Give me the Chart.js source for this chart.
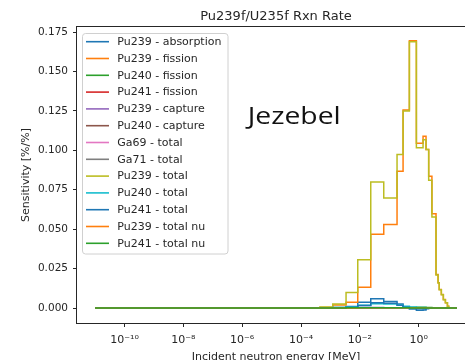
<!DOCTYPE html>
<html>
<head>
<meta charset="utf-8">
<script src="https://cdn.jsdelivr.net/npm/chart.js@4.4.1/dist/chart.umd.min.js"></script>
<style>
  html, body { margin: 0; padding: 0; overflow: hidden; background: #fff; }
  canvas { display: block; }
</style>
</head>
<body>
<canvas id="rxnChart" width="480" height="360"></canvas>
<script>
// Energy group boundaries [MeV]
const energyEdges = [1e-11, 4.4e-4, 1.2e-3, 3.4e-3, 8.5e-3, 2.35e-2, 6.5e-2, 0.184, 0.295, 0.483,
  0.836, 1.41, 1.78, 2.19, 2.82, 3.89, 4.57, 5.0, 5.9, 6.9, 8.1, 9.5, 10.5, 20];

const xTicks = [1e-10, 1e-8, 1e-6, 1e-4, 1e-2, 1];
const yTicks = [0, 0.025, 0.05, 0.075, 0.1, 0.125, 0.15, 0.175];

// Sensitivity per group, one value per bin
const pu239Absorption = [0, 0, 0.0004, 0.0010, 0.0036, 0.0059, 0.0042, 0.0025, 0.0006, -0.0006, -0.0014, -0.0012,
  -0.0004, -0.0001, 0, 0, 0, 0, 0, 0, 0, 0, 0];
const pu239Fission = [0, 0.0003, 0.0019, 0.0036, 0.0131, 0.0467, 0.0529, 0.0867, 0.1256, 0.1695, 0.1045, 0.1090,
  0.1005, 0.0835, 0.0598, 0.0212, 0.0160, 0.0117, 0.0085, 0.0054, 0.0034, 0.0011, 0];
const pu240Fission = [0, 0, 0, 0, 0, 0.0001, 0.0001, 0.0001, 0.0002, 0.0003, 0.0005, 0.0005,
  0.0004, 0.0003, 0.0002, 0.0001, 0, 0, 0, 0, 0, 0, 0];
const pu241Fission = [0, 0, 0, 0.0001, 0.0001, 0.0002, 0.0002, 0.0001, 0.0001, 0.0001, 0, 0,
  0, 0, 0, 0, 0, 0, 0, 0, 0, 0, 0];
const pu239Capture = [0, 0, 0.0001, 0.0002, 0.0003, 0.0003, 0.0002, 0.0001, 0, 0, 0, 0,
  0, 0, 0, 0, 0, 0, 0, 0, 0, 0, 0];
const pu240Capture = [0, 0, 0, 0.0001, 0.0001, 0.0001, 0.0001, 0, 0, 0, 0, 0,
  0, 0, 0, 0, 0, 0, 0, 0, 0, 0, 0];
const ga69Total = [0, 0, 0, 0, 0.0001, 0.0001, 0.0001, 0.0001, 0, 0, 0, 0,
  0, 0, 0, 0, 0, 0, 0, 0, 0, 0, 0];
const ga71Total = [0, 0, 0, 0, 0.0001, 0.0001, 0.0001, 0, 0, 0, 0, 0,
  0, 0, 0, 0, 0, 0, 0, 0, 0, 0, 0];
const pu239Total = [0, 0.0006, 0.0025, 0.0099, 0.0306, 0.0799, 0.0698, 0.0973, 0.1250, 0.1688, 0.1017, 0.1067,
  0.1005, 0.0810, 0.0577, 0.0210, 0.0159, 0.0116, 0.0084, 0.0053, 0.0034, 0.0011, 0];
const pu240Total = [0, 0, 0.0003, 0.0008, 0.0017, 0.0027, 0.0026, 0.0019, 0.0011, 0.0007, 0.0004, 0.0003,
  0.0002, 0.0001, 0, 0, 0, 0, 0, 0, 0, 0, 0];
const pu241Total = [0, 0, 0.0002, 0.0005, 0.0016, 0.0034, 0.0030, 0.0017, 0.0005, -0.0001, -0.0005, -0.0004,
  -0.0002, 0, 0, 0, 0, 0, 0, 0, 0, 0, 0];
const pu239TotalNu = [0, 0, 0, 0, 0.0001, 0.0002, 0.0002, 0.0002, 0.0002, 0.0002, 0.0001, 0.0001,
  0.0001, 0, 0, 0, 0, 0, 0, 0, 0, 0, 0];
const pu241TotalNu = [0, 0, 0, 0.0001, 0.0001, 0.0001, 0.0001, 0.0001, 0.0001, 0, 0, 0,
  0, 0, 0, 0, 0, 0, 0, 0, 0, 0, 0];

const seriesLabels = ['Pu239 - absorption', 'Pu239 - fission', 'Pu240 - fission', 'Pu241 - fission',
  'Pu239 - capture', 'Pu240 - capture', 'Ga69 - total', 'Ga71 - total', 'Pu239 - total',
  'Pu240 - total', 'Pu241 - total', 'Pu239 - total nu', 'Pu241 - total nu'];
const seriesValues = [pu239Absorption, pu239Fission, pu240Fission, pu241Fission, pu239Capture,
  pu240Capture, ga69Total, ga71Total, pu239Total, pu240Total, pu241Total, pu239TotalNu, pu241TotalNu];

// matplotlib tab10 cycle
const tab10 = ['#1f77b4', '#ff7f0e', '#2ca02c', '#d62728', '#9467bd', '#8c564b', '#e377c2',
  '#7f7f7f', '#bcbd22', '#17becf'];

const FONT = '"DejaVu Sans", sans-serif';

// step line points: value holds from the left edge of each bin
function stepPoints(values) {
  const pts = values.map((v, i) => ({ x: energyEdges[i], y: v }));
  pts.push({ x: energyEdges[energyEdges.length - 1], y: values[values.length - 1] });
  return pts;
}

const supMap = { '-': '\u207b', '0': '\u2070', '1': '\u00b9', '2': '\u00b2', '3': '\u00b3',
  '4': '\u2074', '5': '\u2075', '6': '\u2076', '7': '\u2077', '8': '\u2078', '9': '\u2079' };
function powerLabel(v) {
  const exp = String(Math.round(Math.log10(v)));
  return '10' + exp.split('').map(c => supMap[c]).join('');
}

const datasets = seriesValues.map((vals, i) => ({
  label: seriesLabels[i],
  data: stepPoints(vals),
  borderColor: tab10[i % tab10.length],
  borderWidth: 1.5,
  pointRadius: 0,
  stepped: 'before',
  fill: false,
  order: -i   // later series on top, like matplotlib
}));

// title, axis labels, in-axes legend, annotation, frame
const decorations = {
  id: 'decorations',
  afterDraw(chart) {
    const { ctx, chartArea: a } = chart;
    const cx = (a.left + a.right) / 2;
    ctx.save();

    ctx.strokeStyle = '#262626';
    ctx.lineWidth = 1;
    ctx.strokeRect(a.left - 0.5, a.top - 0.5, a.right - a.left + 1, a.bottom - a.top + 1);

    ctx.fillStyle = '#262626';
    ctx.textAlign = 'center';
    ctx.textBaseline = 'alphabetic';
    ctx.font = '13px ' + FONT;
    ctx.fillText('Pu239f/U235f Rxn Rate', cx, 19.5);

    ctx.font = '11px ' + FONT;
    ctx.fillText('Incident neutron energy [MeV]', cx, 360);

    ctx.save();
    ctx.translate(29, (a.top + a.bottom) / 2);
    ctx.rotate(-Math.PI / 2);
    ctx.fillText('Sensitivity [%/%]', 0, 0);
    ctx.restore();

    // legend box
    const lx = 82.5, ly = 33.5, lw = 145.5, lh = 220.5;
    ctx.beginPath();
    ctx.roundRect(lx, ly, lw, lh, 3);
    ctx.fillStyle = 'rgba(255,255,255,0.8)';
    ctx.fill();
    ctx.strokeStyle = '#d0d0d0';
    ctx.lineWidth = 1;
    ctx.stroke();

    ctx.textAlign = 'left';
    ctx.textBaseline = 'middle';
    ctx.font = '11px ' + FONT;
    chart.data.datasets.forEach((ds, i) => {
      const y = 41.7 + i * 16.8;
      ctx.strokeStyle = ds.borderColor;
      ctx.lineWidth = 1.6;
      ctx.beginPath();
      ctx.moveTo(86, y);
      ctx.lineTo(109, y);
      ctx.stroke();
      ctx.fillStyle = '#262626';
      ctx.fillText(ds.label, 117.3, y + 0.5);
    });

    // Jezebel annotation
    ctx.font = '23px "Open Sans", sans-serif';
    ctx.textBaseline = 'alphabetic';
    ctx.fillStyle = '#111';
    const w = ctx.measureText('Jezebel').width;
    ctx.translate(247.7, 124.3);
    ctx.scale(93 / w, 1);
    ctx.fillText('Jezebel', 0, 0);
    ctx.restore();
  }
};

new Chart(document.getElementById('rxnChart'), {
  type: 'line',
  data: { datasets },
  options: {
    responsive: false,
    animation: false,
    layout: { padding: { top: 27, right: 5, left: 0, bottom: 0 } },
    plugins: {
      legend: { display: false },
      tooltip: { enabled: false },
      title: { display: false }
    },
    scales: {
      x: {
        type: 'logarithmic',
        min: Math.pow(10, -11.615),
        max: Math.pow(10, 1.915),
        afterBuildTicks: scale => { scale.ticks = xTicks.map(v => ({ value: v })); },
        afterFit: scale => { scale.height = 37; },
        grid: { drawOnChartArea: false, drawTicks: true, tickLength: 4, tickColor: '#262626', lineWidth: 1 },
        border: { display: false },
        ticks: {
          color: '#262626',
          font: { family: FONT, size: 11 },
          padding: 6.5,
          maxRotation: 0,
          autoSkip: false,
          callback: v => powerLabel(v)
        }
      },
      y: {
        type: 'linear',
        min: -0.0095,
        max: 0.1782,
        afterBuildTicks: scale => { scale.ticks = yTicks.map(v => ({ value: v })); },
        afterFit: scale => { scale.width = 77; },
        grid: { drawOnChartArea: false, drawTicks: true, tickLength: 4, tickColor: '#262626', lineWidth: 1 },
        border: { display: false },
        ticks: {
          color: '#262626',
          font: { family: FONT, size: 10.5 },
          padding: 5,
          callback: v => v.toFixed(3)
        }
      }
    }
  },
  plugins: [decorations]
});
</script>
</body>
</html>
